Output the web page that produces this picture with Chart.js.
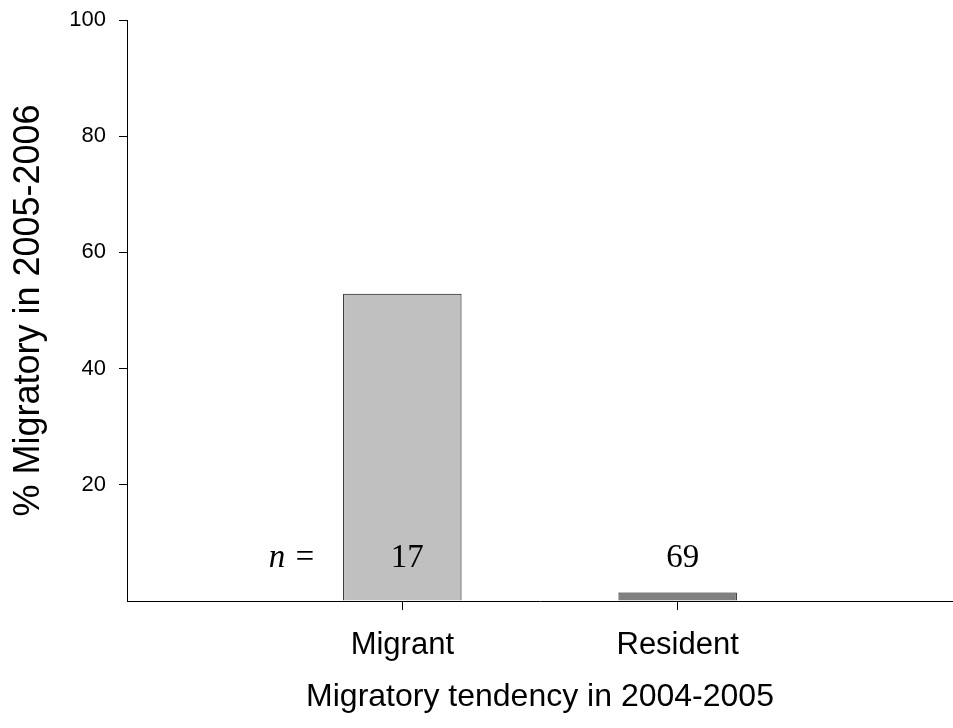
<!DOCTYPE html>
<html>
<head>
<meta charset="utf-8">
<script src="https://cdn.jsdelivr.net/npm/chart.js@4"></script>
<style>
  html, body { margin: 0; padding: 0; background: #fff; overflow: hidden; }
  #wrap { width: 953px; height: 728px; }
</style>
</head>
<body>
<div id="wrap"><canvas id="chart" width="953" height="728"></canvas></div>
<script>
// Data
const categories = ['', 'Migrant', 'Resident', ''];
const percentMigratory = [null, 52.9, 1.45, null];
const sampleSizes = [null, 17, 69, null];
const barColors = ['#c0c0c0', '#c0c0c0', '#808080', '#808080'];
const yTicks = [20, 40, 60, 80, 100];

// Draws the "n =" row of sample sizes
const sampleSizePlugin = {
    id: 'sampleSizes',
    afterDatasetsDraw(chart) {
        const ctx = chart.ctx;
        const x = chart.scales.x;
        const y = chart.scales.y;
        const yPos = y.getPixelForValue(7.3);
        ctx.save();
        ctx.fillStyle = '#000';
        ctx.textBaseline = 'middle';
        ctx.textAlign = 'center';
        ctx.font = 'italic 33px "Liberation Serif", "DejaVu Serif", serif';
        ctx.fillText('n =', x.getPixelForValue(0.6), yPos);
        ctx.font = '33px "Liberation Serif", "DejaVu Serif", serif';
        sampleSizes.forEach((n, i) => {
            if (n !== null) ctx.fillText(String(n), x.getPixelForValue(i) + 5, yPos);
        });
        ctx.restore();
    }
};

new Chart(document.getElementById('chart'), {
    type: 'bar',
    data: {
        labels: categories,
        datasets: [{
            data: percentMigratory,
            backgroundColor: barColors,
            borderColor: '#000',
            borderWidth: 1,
            borderSkipped: 'bottom',
            categoryPercentage: 1,
            barPercentage: 0.43
        }]
    },
    options: {
        responsive: false,
        animation: false,
        layout: { padding: { top: 20, right: 0, left: 0, bottom: 0 } },
        plugins: { legend: { display: false }, tooltip: { enabled: false } },
        scales: {
            x: {
                offset: false,
                afterFit(scale) {
                    scale.height = 127;
                    scale.paddingLeft = 0;
                    scale.paddingRight = 0;
                },
                border: { display: true, color: '#000', width: 1 },
                grid: {
                    offset: false,
                    drawOnChartArea: false,
                    drawTicks: true,
                    tickLength: 9,
                    color: (c) => (c.index === 1 || c.index === 2) ? '#000' : 'rgba(0,0,0,0)'
                },
                ticks: {
                    color: '#000',
                    padding: 17,
                    maxRotation: 0,
                    autoSkip: false,
                    font: { family: 'Arial, "Liberation Sans", sans-serif', size: 31 }
                },
                title: {
                    display: true,
                    text: 'Migratory tendency in 2004-2005',
                    color: '#000',
                    padding: { top: 0, bottom: 12 },
                    font: { family: 'Arial, "Liberation Sans", sans-serif', size: 32 }
                }
            },
            y: {
                min: 0,
                max: 100,
                afterFit(scale) {
                    scale.width = 127;
                    scale.paddingTop = 0;
                    scale.paddingBottom = 0;
                },
                afterBuildTicks(scale) {
                    scale.ticks = [0].concat(yTicks).map(v => ({ value: v }));
                },
                border: { display: true, color: '#000', width: 1 },
                grid: {
                    drawOnChartArea: false,
                    drawTicks: true,
                    tickLength: 8,
                    color: (c) => c.tick && c.tick.value === 0 ? 'rgba(0,0,0,0)' : '#000'
                },
                ticks: {
                    color: '#000',
                    padding: 13,
                    callback: (v) => v === 0 ? '' : v,
                    font: { family: 'Arial, "Liberation Sans", sans-serif', size: 22 }
                },
                title: {
                    display: true,
                    text: '% Migratory in 2005-2006',
                    color: '#000',
                    padding: { top: 7, bottom: 0 },
                    font: { family: 'Arial, "Liberation Sans", sans-serif', size: 36 }
                }
            }
        }
    },
    plugins: [sampleSizePlugin]
});
</script>
</body>
</html>
